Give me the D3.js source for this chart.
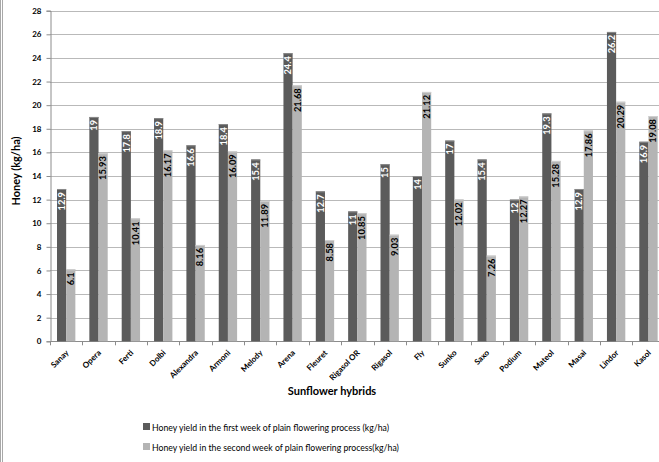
<!DOCTYPE html>
<html><head><meta charset="utf-8">
<script src="https://cdn.jsdelivr.net/npm/d3@7"></script>
<style>body{margin:0;background:#fff}svg{display:block}</style>
</head><body>
<svg id="c" width="659" height="462"></svg>
<script>
const categories = ["Sanay","Opera","Ferti","Dolbi","Alexandra","Armoni","Melody","Arena","Fleuret","Rigasol OR","Rigasol","Fly","Sunko","Saxo","Podium","Mateol","Masai","Lindor","Kasol"];
const week1 = [12.9,19,17.8,18.9,16.6,18.4,15.4,24.4,12.7,11,15,14,17,15.4,12,19.3,12.9,26.2,16.9];
const week2 = [6.1,15.93,10.41,16.17,8.16,16.09,11.89,21.68,8.58,10.85,9.03,21.12,12.02,7.26,12.27,15.28,17.86,20.29,19.08];
const week1Labels = ["12.9","19","17.8","18.9","16.6","18.4","15.4","24.4","12.7","11","15","14","17","15.4","12","19.3","12.9","26.2","16.9"];
const week2Labels = ["6.1","15.93","10.41","16.17","8.16","16.09","11.89","21.68","8.58","10.85","9.03","21.12","12.02","7.26","12.27","15.28","17.86","20.29","19.08"];
const seriesNames = ["Honey yield in the first week of plain flowering process (kg/ha)","Honey yield in the second week of plain flowering process(kg/ha)"];
const yTicks = [0,2,4,6,8,10,12,14,16,18,20,22,24,26,28];

(function(){
const font = "Lato, 'Open Sans', sans-serif";
const colors = ["#5b5b5b","#b4b4b4"];
const svg = d3.select("#c");
const mLeft = 50, mTop = 10.7, mBottom = 341.3, bw = 32.35;
const x = d3.scaleBand().domain(categories).range([mLeft, mLeft + bw*categories.length]);
const xs = d3.scaleBand().domain([0,1]).range([7, bw-7]);
const y = d3.scaleLinear().domain([0,28]).range([mBottom, mTop]);

// left border
svg.append("rect").attr("x",0.5).attr("y",-1).attr("width",2).attr("height",464).attr("fill","none").attr("stroke","#a8a8a8").attr("stroke-width",1);

// gridlines
svg.append("g").selectAll("line").data(yTicks.filter(d=>d>0)).join("line")
  .attr("x1",mLeft).attr("x2",659).attr("y1",d=>Math.round(y(d))+0.5).attr("y2",d=>Math.round(y(d))+0.5)
  .attr("stroke","#b9b9b9").attr("stroke-width",1);

// y axis
const ya = svg.append("g").attr("transform",`translate(${mLeft+0.5},0)`)
  .call(d3.axisLeft(y).tickValues(yTicks).tickSize(4).tickPadding(5));
ya.select(".domain").attr("stroke","#8c8c8c");
ya.selectAll(".tick line").attr("stroke","#8c8c8c");
ya.selectAll("text").attr("font-family",font).attr("font-weight","bold").attr("font-size","8px").attr("fill","#000");

// x axis line + ticks
svg.append("line").attr("x1",mLeft).attr("x2",659).attr("y1",Math.round(mBottom)+0.5).attr("y2",Math.round(mBottom)+0.5)
  .attr("stroke","#8c8c8c");
svg.append("g").selectAll("line").data(categories).join("line")
  .attr("x1",d=>Math.round(x(d))+0.5).attr("x2",d=>Math.round(x(d))+0.5).attr("y1",mBottom).attr("y2",mBottom+4)
  .attr("stroke","#8c8c8c");
svg.append("g").selectAll("text").data(categories).join("text")
  .attr("transform",d=>`translate(${x(d)+bw/2+3},${mBottom+12}) rotate(-45)`)
  .attr("text-anchor","end").attr("font-family",font).attr("font-weight","bold")
  .attr("font-size","8px").attr("fill","#000").text(d=>d);

// bars
const data = [week1, week2];
const labels = [week1Labels, week2Labels];
data.forEach((vals, s) => {
  const g = svg.append("g");
  g.selectAll("rect").data(categories).join("rect")
    .attr("x",(d,i)=>x(d)+xs(s)).attr("width",xs.bandwidth())
    .attr("y",(d,i)=>y(vals[i])).attr("height",(d,i)=>mBottom - y(vals[i]))
    .attr("fill",colors[s]);
  g.selectAll("line").data(categories).join("line")
    .attr("x1",(d)=>x(d)+xs(s)).attr("x2",d=>x(d)+xs(s)+xs.bandwidth())
    .attr("y1",(d,i)=>y(vals[i])+0.5).attr("y2",(d,i)=>y(vals[i])+0.5)
    .attr("stroke", s===0 ? "#8a8a8a" : "#d0d0d0");
  g.selectAll("text").data(categories).join("text")
    .attr("transform",(d,i)=>`translate(${x(d)+xs(s)+xs.bandwidth()/2+3.3},${y(vals[i])+3}) rotate(-90)`)
    .attr("text-anchor","end").attr("font-family",font).attr("font-weight","bold")
    .attr("font-size","9.3px").attr("fill", s===0 ? "#fff" : "#000")
    .text((d,i)=>labels[s][i]);
});

// axis titles
svg.append("text").attr("transform",`translate(20,171) rotate(-90)`)
  .attr("text-anchor","middle").attr("font-family",font).attr("font-weight","bold")
  .attr("font-size","11px").attr("fill","#000").text("Honey (kg/ha)");
svg.append("text").attr("x",332).attr("y",395).attr("text-anchor","middle")
  .attr("font-family",font).attr("font-weight","bold").attr("font-size","11px")
  .attr("fill","#000").text("Sunflower hybrids");

// legend
const lg = svg.append("g");
seriesNames.forEach((n,i)=>{
  lg.append("rect").attr("x",143).attr("y",423+i*20).attr("width",7).attr("height",7).attr("fill",colors[i]);
  lg.append("text").attr("x",152).attr("y",430.5+i*20).attr("font-family",font)
    .attr("font-size","8.7px").attr("fill","#000").text(n);
});
})();
</script>
</body></html>
